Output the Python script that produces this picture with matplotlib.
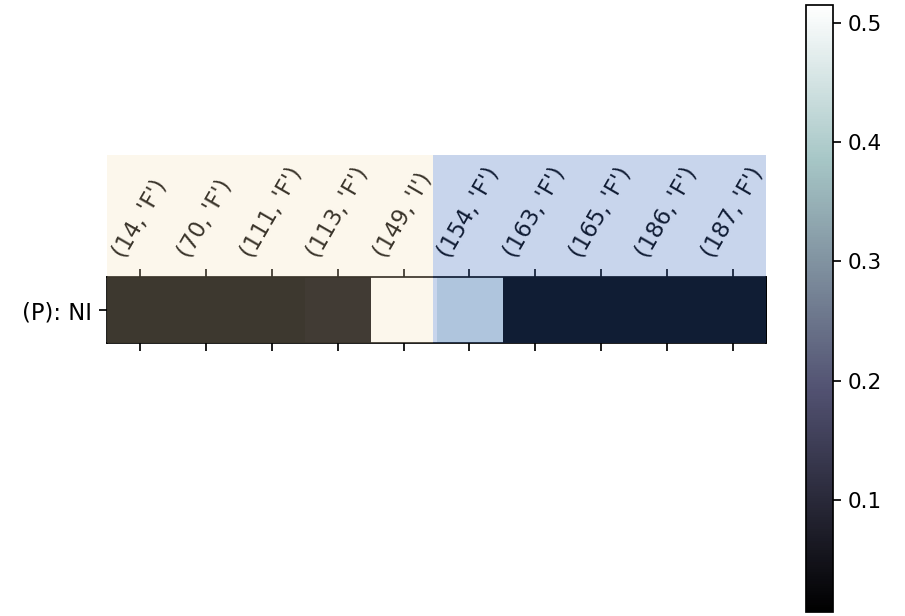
import numpy as np
import matplotlib
matplotlib.use("Agg")
import matplotlib.pyplot as plt
import matplotlib.patches as P

# columns of the single row, and their values
positions = [14, 70, 111, 113, 149, 154, 163, 165, 186, 187]
residues = ["F", "F", "F", "F", "I", "F", "F", "F", "F", "F"]
values = [0.016, 0.016, 0.016, 0.028, 0.515, 0.464, 0.006, 0.006, 0.006, 0.006]
row_label = "(P): NI"
cbar_ticks = [0.1, 0.2, 0.3, 0.4, 0.5]

col_labels = [str((p, r)) for p, r in zip(positions, residues)]

DPI = 155


def make_plot():
    fig = plt.figure(figsize=(905 / DPI, 616 / DPI), dpi=DPI)
    ax = fig.add_axes([0.1182, 0.4432, 0.7282, 0.1071])
    cax = fig.add_axes([0.8906, 0.0065, 0.0298, 0.9854])

    data = np.array([values])
    im = ax.imshow(data, cmap="bone", aspect="auto",
                   vmin=min(values), vmax=max(values))

    ax.set_xticks(range(len(col_labels)))
    ax.set_xticklabels(col_labels, rotation=60, fontsize=10.5)
    ax.set_yticks([0])
    ax.set_yticklabels([row_label], fontsize=10.5)
    ax.tick_params(top=True, labeltop=True, bottom=True, labelbottom=False)

    # shaded groups laid over the cells and the column labels
    ax.add_patch(P.Rectangle((0, 0), 0.4947, 2.85, transform=ax.transAxes,
                             facecolor="wheat", alpha=0.24, edgecolor="none",
                             clip_on=False, zorder=5))
    ax.add_patch(P.Rectangle((0.4947, 0), 0.5053, 2.85, transform=ax.transAxes,
                             facecolor=(60 / 255, 105 / 255, 190 / 255), alpha=0.28,
                             edgecolor="none", clip_on=False, zorder=5))

    cb = fig.colorbar(im, cax=cax)
    cb.set_ticks(cbar_ticks)

    fig.savefig("out.png", dpi=DPI)


make_plot()
